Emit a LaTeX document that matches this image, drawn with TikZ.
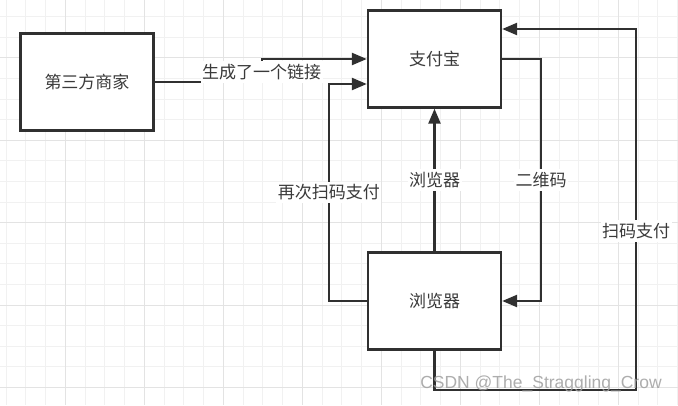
\documentclass[tikz,border=0pt]{standalone}
\usepackage{fontspec}
\setmainfont{Liberation Sans}
\newfontfamily\cjk{Noto Sans CJK SC}
\usetikzlibrary{arrows.meta}
\definecolor{linegray}{HTML}{303030}
\definecolor{textgray}{HTML}{3A3A3A}
\definecolor{gridminor}{HTML}{F1F1F1}
\definecolor{gridmajor}{HTML}{E3E3E3}
\tikzset{
  box/.style={draw=linegray, line width=2.4pt, fill=white, minimum width=133pt,
    minimum height=97pt, inner sep=0pt, text=textgray, font=\cjk\fontsize{17}{20}\selectfont},
  flow/.style={draw=linegray, line width=2.4pt, ->},
  lbl/.style={fill=white, inner xsep=1.5pt, inner ysep=3pt, text=textgray, font=\cjk\fontsize{17}{20}\selectfont},
}
\begin{document}
\begin{tikzpicture}[x=1pt, y=-1pt, >={Triangle[length=15pt,width=12pt]}]
                \useasboundingbox (0,0) rectangle (678,405);
                % 绘制网格
                \fill[white] (0,0) rectangle (678,405);
                \foreach \i in {0,...,34} \draw[gridminor, line width=0.9pt] ({6+19.75*\i},0) -- ++(0,405);
                \foreach \j in {0,...,18} \draw[gridminor, line width=0.9pt] (0,{16.7+20.6*\j}) -- ++(678,0);
                \foreach \i in {3,7,...,31} \draw[gridmajor, line width=1pt] ({6+19.75*\i},0) -- ++(0,405);
                \foreach \j in {2,6,...,18} \draw[gridmajor, line width=1pt] (0,{16.7+20.6*\j}) -- ++(678,0);

                % 三个方框
                \node[box] (merchant) at (87,82) {第三方商家};
                \node[box] (alipay) at (434.5,59) {支付宝};
                \node[box] (browser) at (434.5,301) {浏览器};

                % 外圈回路的拐点
                \coordinate (loopBR) at (636,390);
                \coordinate (loopTR) at ([yshift=30pt]alipay.east);

                % 连线
                \draw[flow] (merchant.east) -- ++(107,0) |- node[lbl, pos=0.22] {生成了一个链接} (alipay.west);
                \draw[flow] (browser.west) -- ++(-38,0) |- node[lbl, pos=0.25] {再次扫码支付} ([yshift=-25pt]alipay.west);
                \draw[flow] (browser.north) -- node[lbl] {浏览器} (alipay.south);
                \draw[flow] (alipay.east) -- ++(39,0) |- node[lbl, pos=0.25] {二维码} (browser.east);
                \draw[flow] (browser.south) |- (loopBR) -- node[lbl, pos=0.44] {扫码支付} (loopBR |- loopTR) -- (loopTR);

                % 水印
                \node[text=gray!75, opacity=0.85, font=\fontsize{17.5}{20}\selectfont] (mark) at (541,384) {CSDN @The\_Straggling\_Crow};
\end{tikzpicture}
\end{document}
